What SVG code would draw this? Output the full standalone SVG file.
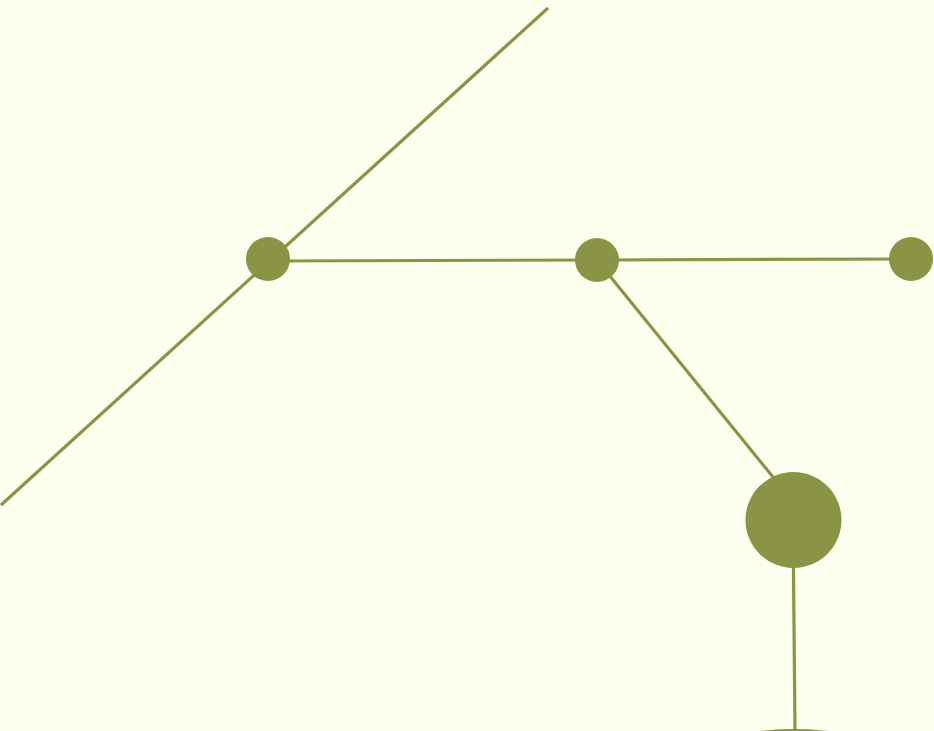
<svg xmlns="http://www.w3.org/2000/svg" width="934" height="731" viewBox="0 0 934 731">
<style>
.e{stroke:#8a9444;stroke-width:3.2;fill:none}
.n{fill:#8a9444}
</style>
<rect width="934" height="731" fill="#fbffee"/>
<g id="connectors">
<line class="e" x1="1" y1="505" x2="548" y2="8"/>
<line class="e" x1="268" y1="261" x2="597" y2="260"/>
<line class="e" x1="597" y1="260" x2="911" y2="259"/>
<line class="e" x1="596" y1="259" x2="807" y2="519"/>
<line class="e" x1="793" y1="519" x2="795" y2="731"/>
</g>
<g id="node-a"><circle class="n" cx="268" cy="259" r="22"/></g>
<g id="node-b"><circle class="n" cx="597" cy="260" r="22"/></g>
<g id="node-c"><circle class="n" cx="911" cy="259" r="22"/></g>
<g id="node-d"><circle class="n" cx="793.5" cy="520" r="48"/></g>
<g id="node-e"><circle class="n" cx="794" cy="1019" r="290"/></g>
</svg>
